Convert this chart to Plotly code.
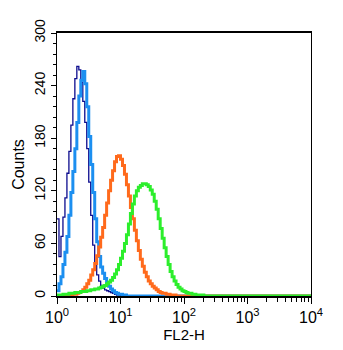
import numpy as np
import plotly.graph_objects as go

# Histogram channels: 32 bins per decade, starting at 10^0
BINS_PER_DECADE = 32
N_BINS = 4 * BINS_PER_DECADE

navy_counts = [88, 45, 68, 90, 112, 140, 165, 195, 225, 248, 262, 258, 244, 222, 198, 168,
               130, 92, 58, 36, 24, 17, 12, 9, 7, 6, 5, 4, 3, 2, 1, 1]
blue_counts = [6, 14, 22, 36, 50, 68, 92, 118, 142, 168, 198, 228, 246, 256, 242, 216,
               182, 150, 118, 88, 62, 45, 33, 26, 20, 15, 11, 8, 6, 4, 3, 2, 2, 1, 1]
orange_counts = [0, 0, 0, 0, 0, 0, 1, 1, 2, 2, 3, 4, 5, 7, 10, 14,
                 18, 24, 30, 37, 46, 56, 67, 78, 92, 106, 120, 132, 143, 153, 159, 160,
                 156, 149, 139, 127, 114, 101, 88, 75, 63, 52, 42, 34, 27, 22, 17, 14,
                 11, 9, 7, 5, 4, 3, 3, 2, 2, 1, 1, 1]
green_counts = [1, 1, 1, 2, 2, 2, 3, 3, 3, 4, 4, 4, 5, 5, 5, 6,
                6, 7, 7, 8, 8, 9, 10, 11, 12, 14, 16, 18, 21, 25, 30, 36,
                43, 51, 60, 70, 82, 94, 105, 114, 120, 124, 126, 128, 128, 127, 125, 121,
                116, 108, 99, 88, 77, 66, 55, 45, 36, 28, 22, 17, 13, 10, 8, 6,
                5, 4, 3, 3, 2, 2, 1, 1, 1, 1]

x_tick_vals = [1, 10, 100, 1000, 10000]
x_tick_text = ["10<sup>0</sup>", "10<sup>1</sup>", "10<sup>2</sup>", "10<sup>3</sup>", "10<sup>4</sup>"]
y_tick_vals = [0, 60, 120, 180, 240, 300]

series = [
    ("navy", navy_counts, "#0c0c8e", 1.3),
    ("blue", blue_counts, "#1c8ff0", 3),
    ("orange", orange_counts, "#ff6a1c", 3),
    ("green", green_counts, "#2cee2c", 3),
]

edges = 10 ** (np.arange(N_BINS + 1) / BINS_PER_DECADE)

fig = go.Figure()
for name, counts, color, width in series:
    padded = list(counts) + [0] * (N_BINS - len(counts))
    fig.add_trace(go.Scatter(
        x=edges, y=padded + [padded[-1]], mode="lines", name=name,
        line=dict(color=color, width=width, shape="hv"),
        hoverinfo="skip", showlegend=False,
    ))

minor_x = [m * 10 ** d for d in range(4) for m in range(2, 10)]

font = "Arial, Liberation Sans, Helvetica, sans-serif"
fig.update_layout(
    width=343, height=350,
    margin=dict(l=57, r=32, t=33, b=54),
    paper_bgcolor="white", plot_bgcolor="white",
    font=dict(family=font, color="black", size=14),
    xaxis=dict(
        type="log", range=[0, 4],
        tickvals=x_tick_vals, ticktext=x_tick_text,
        ticks="outside", ticklen=6, tickwidth=1, tickcolor="black",
        minor=dict(tickvals=minor_x, ticks="outside", ticklen=4, tickwidth=1, tickcolor="black"),
        showline=True, linecolor="black", linewidth=2, mirror=True,
        showgrid=False, zeroline=False, layer="below traces",
        tickfont=dict(size=16),
        title=dict(text="FL2-H", font=dict(size=15), standoff=0),
    ),
    yaxis=dict(
        range=[0, 300],
        tickvals=y_tick_vals, tickangle=-90,
        ticks="outside", ticklen=5, tickwidth=1, tickcolor="black",
        minor=dict(dtick=12, ticks="outside", ticklen=3, tickwidth=1, tickcolor="black"),
        showline=True, linecolor="black", linewidth=1.2, mirror=True,
        showgrid=False, zeroline=False, layer="below traces",
        tickfont=dict(size=14),
        title=dict(text="Counts", font=dict(size=16), standoff=3),
    ),
)

fig.write_html("out.html")
